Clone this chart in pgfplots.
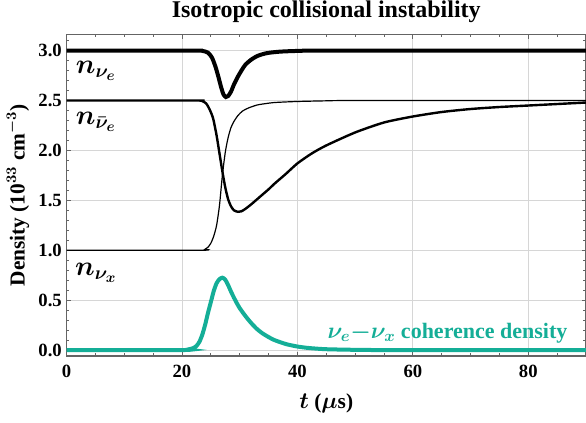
\documentclass[border=0pt]{standalone}
\usepackage{fontspec}
\setmainfont{Liberation Serif}
\usepackage{pgfplots}
\pgfplotsset{compat=1.18}

\definecolor{coh}{RGB}{20,174,151}
\definecolor{framegray}{RGB}{100,100,100}
\definecolor{gridgray}{RGB}{214,214,214}

\begin{document}
\begin{tikzpicture}
\begin{axis}[
    scale only axis,
    width=389.6pt, height=241pt,
    xmin=0, xmax=90,
    ymin=-0.06, ymax=3.16,
    xtick={0,20,40,60,80},
    minor xtick={5,10,15,25,30,35,45,50,55,65,70,75,85},
    ytick={0,0.5,1,1.5,2,2.5,3},
    minor ytick={0,0.1,...,3.15},
    tick align=inside,
    major tick length=3pt, minor tick length=2pt,
    axis line style={framegray, line width=0.8pt},
    every tick/.style={framegray, line width=0.6pt},
    grid=major,
    major grid style={gridgray, line width=0.7pt},
    /pgf/number format/assume math mode=true,
    ticklabel style={font=\fontsize{14}{16}\selectfont\bfseries},
    xticklabel style={yshift=-3pt},
    yticklabel style={/pgf/number format/.cd, fixed, fixed zerofill, precision=1},
    xlabel={$t$ ($\mu$s)},
    xlabel style={font=\fontsize{16}{19}\selectfont\bfseries\boldmath, at={(0.5,-0.147)}, anchor=center},
    ylabel={Density (10$^{33}$ cm$^{-3}$)},
    ylabel style={font=\fontsize{16}{19}\selectfont\bfseries\boldmath, at={(-0.0934,0.5)}, anchor=center},
]

% n_nu_e
\addplot[black, line width=3pt, smooth, tension=0.4] coordinates {
(0,3.0) (22,3.0) (23.5,2.998) (24.5,2.98) (25.2,2.93) (25.8,2.84) (26.3,2.74)
(26.8,2.63) (27.2,2.56) (27.6,2.535) (28.0,2.545) (28.5,2.59) (29,2.66)
(29.6,2.73) (30.3,2.80) (31,2.86) (32,2.91) (33,2.945) (34,2.965) (35,2.978)
(37,2.99) (40,2.997) (45,3.0) (90,3.0)
};

% n_nubar_e
\addplot[black, line width=1.8pt, smooth, tension=0.4] coordinates {
(0,2.5) (22.5,2.5) (23.5,2.495) (24.2,2.47) (24.8,2.41) (25.4,2.32) (26,2.15)
(26.5,1.97) (27,1.79) (27.5,1.63) (28,1.51) (28.5,1.44) (29,1.40) (29.7,1.385)
(30.3,1.39) (31,1.415) (32,1.46) (33,1.51) (34,1.56) (35,1.61) (36,1.665)
(37,1.715) (38,1.765) (40,1.87) (42.5,1.97) (45,2.05) (50,2.18) (55,2.28)
(60,2.34) (65,2.385) (70,2.415) (75,2.435) (80,2.45) (85,2.465) (90,2.48)
};

% n_nu_x
\addplot[black, line width=0.9pt, smooth, tension=0.4] coordinates {
(0,1.0) (23.3,1.0) (24,1.01) (24.5,1.03) (25,1.07) (25.5,1.14) (26,1.25)
(26.5,1.45) (27,1.75) (27.5,1.98) (28,2.13) (28.5,2.23) (29,2.29) (29.7,2.35)
(30.5,2.395) (31.5,2.425) (33,2.455) (34.6,2.47) (36,2.48) (39.7,2.49)
(45,2.497) (50,2.5) (90,2.5)
};

% coherence density
\addplot[coh, line width=3pt, smooth, tension=0.4] coordinates {
(0,0) (20,0) (21,0.005) (22,0.02) (22.5,0.04) (23,0.08) (23.5,0.15) (24,0.25)
(24.5,0.37) (25,0.48) (25.5,0.59) (26,0.67) (26.5,0.71) (27,0.725) (27.5,0.705)
(28,0.65) (28.5,0.585) (29,0.525) (29.5,0.47) (30,0.42) (31,0.34) (32,0.27)
(33,0.21) (34,0.165) (35,0.13) (36,0.10) (38,0.06) (40,0.035) (42,0.02)
(45,0.008) (50,0.002) (55,0) (90,0)
};

\node[font=\fontsize{22}{26}\selectfont\boldmath] at (axis cs:5.1,2.80) {$n_{\nu_e}$};
\node[font=\fontsize{22}{26}\selectfont\boldmath] at (axis cs:5.1,2.29) {$n_{\bar{\nu}_e}$};
\node[font=\fontsize{22}{26}\selectfont\boldmath] at (axis cs:5.1,0.77) {$n_{\nu_x}$};
\node[coh, font=\fontsize{16.5}{19}\selectfont\bfseries\boldmath] at (axis cs:66,0.17) {$\nu_e{-}\nu_x$ coherence density};
\end{axis}
\node[font=\fontsize{18}{21}\selectfont\bfseries, anchor=center] at ([yshift=17pt]current axis.north) {Isotropic collisional instability};
\pgfresetboundingbox
\path[use as bounding box] ([xshift=-49.9pt,yshift=-49.5pt]current axis.south west) rectangle ([yshift=26pt]current axis.north east);
\end{tikzpicture}
\end{document}
